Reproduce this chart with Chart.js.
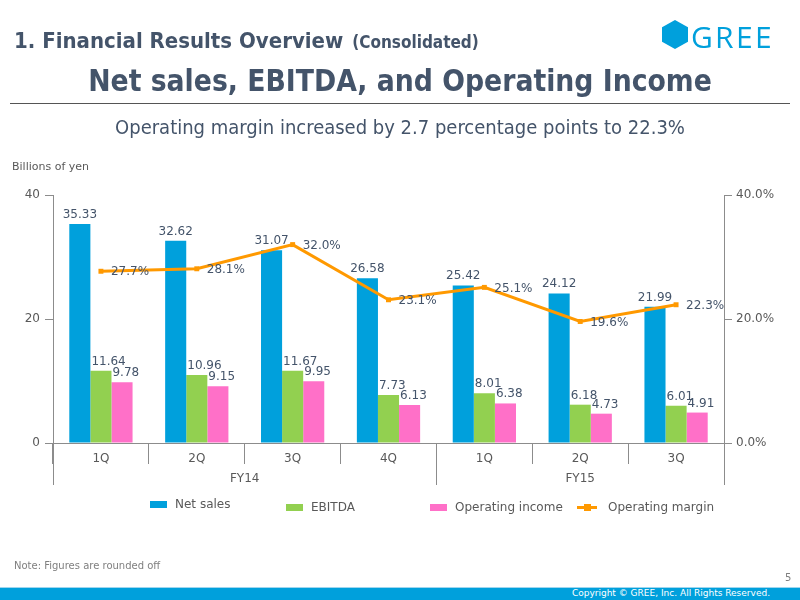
<!DOCTYPE html>
<html>
<head>
<meta charset="utf-8">
<script src="https://cdn.jsdelivr.net/npm/chart.js@4.4.1/dist/chart.umd.min.js"></script>
<style>
  body { margin: 0; width: 800px; height: 600px; position: relative; overflow: hidden; background: #fff; font-family: "DejaVu Sans", Verdana, sans-serif; color: #44546a; }
  #chart { position: absolute; left: 0; top: 0; }
  .abs { position: absolute; white-space: nowrap; }
  #head1 { left: 14px; top: 28px; font-family: "DejaVu Sans Condensed", sans-serif; font-weight: bold; font-size: 22px; }
  #head1 small { font-size: 17px; margin-left: 2px; }
  #title { left: 0; width: 800px; text-align: center; top: 63px; font-family: "DejaVu Sans Condensed", sans-serif; font-weight: bold; font-size: 29.7px; }
  #rule { left: 10px; width: 780px; top: 103px; height: 1px; background: #555; }
  #sub { left: 0; width: 800px; text-align: center; top: 115px; font-family: "DejaVu Sans Condensed", sans-serif; font-size: 20px; }
  #unit { left: 12px; top: 160px; font-size: 11px; color: #595959; }
  #hex { left: 662px; top: 20px; width: 26px; height: 29px; background: #00a0dc; clip-path: polygon(50% 0, 100% 25%, 100% 75%, 50% 100%, 0 75%, 0 25%); }
  #gree { left: 691px; top: 16px; font-family: "Open Sans", sans-serif; font-size: 30px; color: #00a0dc; letter-spacing: 2.3px; }
  #note { left: 14px; top: 560px; font-size: 10px; color: #7f7f7f; }
  #page { left: 785px; top: 572px; font-size: 10px; color: #7f7f7f; }
  #foot { left: 0; top: 587px; width: 800px; height: 13px; background: #00a0dc; border-top: 1px solid #9fd6ee; }
  #copy { right: 30px; top: 588px; font-size: 9px; color: #fff; }
  .leg { position: absolute; font-size: 12px; color: #595959; white-space: nowrap; }
  .leg i { display: inline-block; vertical-align: middle; margin-right: 8px; }
</style>
</head>
<body>
<canvas id="chart" width="800" height="600"></canvas>
<div class="abs" id="head1">1. Financial Results Overview <small>(Consolidated)</small></div>
<div class="abs" id="hex"></div>
<div class="abs" id="gree">GREE</div>
<div class="abs" id="title">Net sales, EBITDA, and Operating Income</div>
<div class="abs" id="rule"></div>
<div class="abs" id="sub">Operating margin increased by 2.7 percentage points to 22.3%</div>
<div class="abs" id="unit">Billions of yen</div>
<div id="legend"></div>
<div class="abs" id="note">Note: Figures are rounded off</div>
<div class="abs" id="page">5</div>
<div class="abs" id="foot"></div>
<div class="abs" id="copy">Copyright © GREE, Inc. All Rights Reserved.</div>
<script>
// chart data
var quarters = ["1Q", "2Q", "3Q", "4Q", "1Q", "2Q", "3Q"];
var years = ["FY14", "FY15"];
var yearSpan = [4, 3];
var netSales = [35.33, 32.62, 31.07, 26.58, 25.42, 24.12, 21.99];
var ebitda = [11.64, 10.96, 11.67, 7.73, 8.01, 6.18, 6.01];
var opIncome = [9.78, 9.15, 9.95, 6.13, 6.38, 4.73, 4.91];
var opMargin = [27.7, 28.1, 32.0, 23.1, 25.1, 19.6, 22.3];
var leftTicks = [0, 20, 40];
var rightTicks = [0, 20, 40];

var axisColor = "#8c8c8c";
var labelColor = "#44546a";
var tickColor = "#595959";

// value labels drawn over bars and line points
var valueLabels = {
    id: 'valueLabels',
    afterDatasetsDraw: function (chart) {
        var c = chart.ctx;
        c.save();
        c.font = '12px "DejaVu Sans"';
        c.fillStyle = labelColor;
        chart.data.datasets.forEach(function (ds, i) {
            var meta = chart.getDatasetMeta(i);
            meta.data.forEach(function (el, j) {
                var v = ds.data[j];
                if (ds.type == 'line') {
                    c.textAlign = 'left';
                    c.textBaseline = 'middle';
                    c.fillText(v.toFixed(1) + '%', el.x + 10, el.y + 1);
                } else if (i == 1) {
                    c.textAlign = 'center';
                    c.textBaseline = 'alphabetic';
                    c.fillText(v.toFixed(2), el.x, el.y - 6);
                } else {
                    c.textAlign = 'left';
                    c.textBaseline = 'alphabetic';
                    c.fillText(v.toFixed(2), el.x - el.width / 2 + 1, el.y - 6);
                }
            });
        });
        c.restore();
    }
};

// fiscal year row under the quarter labels
var yearRow = {
    id: 'yearRow',
    afterDraw: function (chart) {
        var c = chart.ctx;
        var x = chart.scales.x;
        var step = (x.right - x.left) / quarters.length;
        var top = x.top;
        c.save();
        c.strokeStyle = axisColor;
        c.lineWidth = 1;
        c.fillStyle = tickColor;
        c.font = '12px "DejaVu Sans"';
        c.textAlign = 'center';
        c.textBaseline = 'middle';
        var start = 0;
        years.forEach(function (y, k) {
            var x0 = x.left + start * step;
            var x1 = x0 + yearSpan[k] * step;
            [x0, x1].forEach(function (px) {
                px = Math.round(px) + 0.5;
                c.beginPath();
                c.moveTo(px, top);
                c.lineTo(px, top + 42);
                c.stroke();
            });
            c.fillText(y, (x0 + x1) / 2, top + 36);
            start += yearSpan[k];
        });
        c.restore();
    }
};

var ctx = document.getElementById('chart').getContext('2d');
var myChart = new Chart(ctx, {
    type: 'bar',
    data: {
        labels: quarters,
        datasets: [
            {
                type: 'line',
                label: 'Operating margin',
                data: opMargin,
                yAxisID: 'y1',
                borderColor: '#ff9900',
                backgroundColor: '#ff9900',
                borderWidth: 3,
                pointStyle: 'rect',
                pointRadius: 3.5,
                pointBorderWidth: 0,
                tension: 0,
                order: 0
            },
            { label: 'Net sales', data: netSales, backgroundColor: '#00a0dc', yAxisID: 'y', order: 1 },
            { label: 'EBITDA', data: ebitda, backgroundColor: '#92d050', yAxisID: 'y', order: 1 },
            { label: 'Operating income', data: opIncome, backgroundColor: '#ff70c8', yAxisID: 'y', order: 1 }
        ]
    },
    options: {
        responsive: false,
        animation: false,
        layout: { padding: { top: 195, left: 0, right: 0, bottom: 0 } },
        datasets: { bar: { barPercentage: 1, categoryPercentage: 0.66 } },
        plugins: { legend: { display: false }, tooltip: { enabled: false } },
        scales: {
            x: {
                grid: { display: true, drawOnChartArea: false, offset: true, tickLength: 21, color: axisColor },
                border: { color: axisColor },
                ticks: { color: tickColor, font: { family: 'DejaVu Sans', size: 12 }, padding: -12, maxRotation: 0 },
                afterFit: function (s) { s.height = 157; }
            },
            y: {
                position: 'left',
                min: 0, max: 40,
                afterBuildTicks: function (s) { s.ticks = leftTicks.map(function (v) { return { value: v }; }); },
                grid: { drawOnChartArea: false, tickLength: 8, color: axisColor },
                border: { color: axisColor },
                ticks: { color: tickColor, font: { family: 'DejaVu Sans', size: 12 }, padding: 5 },
                afterFit: function (s) { s.width = 53; }
            },
            y1: {
                position: 'right',
                min: 0, max: 40,
                afterBuildTicks: function (s) { s.ticks = rightTicks.map(function (v) { return { value: v }; }); },
                grid: { drawOnChartArea: false, tickLength: 8, color: axisColor },
                border: { color: axisColor },
                ticks: { color: tickColor, font: { family: 'DejaVu Sans', size: 12 }, padding: 4,
                    callback: function (v) { return v.toFixed(1) + '%'; } },
                afterFit: function (s) { s.width = 76; }
            }
        }
    },
    plugins: [valueLabels, yearRow]
});

// legend, built from the datasets
var legendSpots = [[150, 497], [286, 500], [430, 500], [577, 500]];
var legendOrder = [1, 2, 3, 0];
var html = '';
legendOrder.forEach(function (di, k) {
    var ds = myChart.data.datasets[di];
    var mark;
    if (ds.type == 'line') {
        mark = '<i style="width:20px;height:3px;background:' + ds.borderColor + ';position:relative;margin-right:11px"><b style="position:absolute;left:7px;top:-2px;width:7px;height:7px;background:' + ds.borderColor + '"></b></i>';
    } else {
        mark = '<i style="width:17px;height:7px;background:' + ds.backgroundColor + '"></i>';
    }
    html += '<div class="leg" style="left:' + legendSpots[k][0] + 'px;top:' + legendSpots[k][1] + 'px">' + mark + ds.label + '</div>';
});
document.getElementById('legend').innerHTML = html;
</script>
</body>
</html>
